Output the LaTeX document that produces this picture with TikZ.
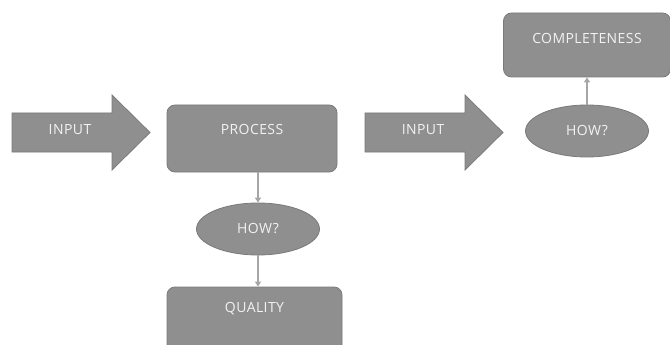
\documentclass[tikz,border=0pt]{standalone}
\usepackage{fontspec}
\setmainfont{Open Sans}[LetterSpace=3]
\usetikzlibrary{arrows.meta, shapes.geometric}
\definecolor{boxgray}{HTML}{8F8F8F}
\definecolor{linegray}{HTML}{7A7A7A}
\definecolor{conngray}{HTML}{A6A6A6}
\tikzset{every node/.style={font=\fontsize{14}{16}\selectfont, text=white!95!black},
         box/.style={rectangle, rounded corners=8pt, draw=linegray, fill=boxgray,
                     line width=0.8pt, inner sep=0pt, anchor=base},
         oval/.style={ellipse, draw=linegray, fill=boxgray, line width=0.8pt,
                      inner sep=0pt, minimum width=123pt, minimum height=52pt},
         bigarrow/.style={draw=linegray, fill=boxgray, line width=0.8pt},
         conn/.style={draw=conngray, line width=1.3pt, -{Triangle[length=5pt, width=6pt]}}}

\begin{document}
\begin{tikzpicture}[x=1pt, y=-1pt]
        \useasboundingbox (0,0) rectangle (670,345);
        % Arrows
        \draw[bigarrow] (12,113) -- (112,113) -- (112,95) -- (150,132.5) -- (112,170)
            -- (112,152) -- (12,152) -- cycle;
        \draw[bigarrow] (365,113) -- (465,113) -- (465,95) -- (503,132.5) -- (465,170)
            -- (465,152) -- (365,152) -- cycle;
        \node (in1) at (70,130) {INPUT};
        \node (in2) at (423,130) {INPUT};

        % Nodes
        \node[box, minimum width=170pt, text height=30pt, text depth=37pt] (proc) at (252,135) {PROCESS};
        \node[oval] (how1) at (258,229) {HOW?};
        \node[box, minimum width=175pt, text height=25pt, text depth=45pt] (qual) at (254.5,312) {QUALITY};
        \node[oval] (how2) at (587,131) {HOW?};
        \node[box, minimum width=167pt, text height=31pt, text depth=33pt] (comp) at (587,44) {COMPLETENESS};

        % Edges
        \draw[conn] (proc.south -| how1.north) -- (how1.north);
        \draw[conn] (how1.south) -- (qual.north -| how1.south);
        \draw[conn] (how2.north) -- (comp.south);
    \end{tikzpicture}
\end{document}
